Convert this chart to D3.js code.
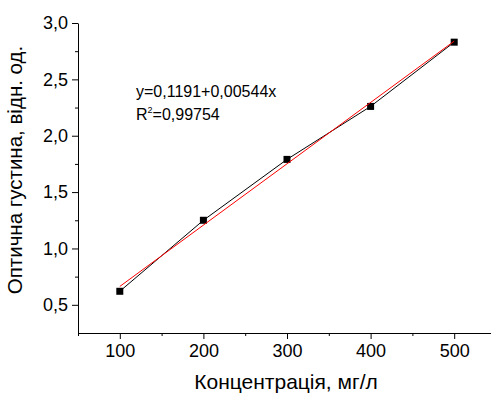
<!DOCTYPE html>
<html>
<head>
<meta charset="utf-8">
<script src="https://cdn.jsdelivr.net/npm/d3@7"></script>
<style>
  html, body { margin: 0; padding: 0; background: #fff; }
  svg { display: block; font-family: "Liberation Sans", Arial, sans-serif; }
</style>
</head>
<body>
<svg id="chart" width="491" height="394"></svg>
<script>
const concentrations = [100, 200, 300, 400, 500];
const opticalDensity = [0.62, 1.25, 1.79, 2.26, 2.83];
const fitX = [100, 500];
const fitY = [0.663, 2.839];
const xMajorTicks = [100, 200, 300, 400, 500];
const xMinorTicks = [50, 150, 250, 350, 450, 550];
const yMajorTicks = [0.5, 1.0, 1.5, 2.0, 2.5, 3.0];
const yMinorTicks = [0.75, 1.25, 1.75, 2.25, 2.75];
const equationLines = ["y=0,1191+0,00544x", "R", "2", "=0,99754"];
const xTitle = "Концентрація, мг/л";
const yTitle = "Оптична густина, відн. од.";

const svg = d3.select("#chart");
const x = d3.scaleLinear().domain([50, 550]).range([78, 496]);
const y = d3.scaleLinear().domain([0.25, 3.0]).range([333, 23]);
const fmt = d => d3.format(".1f")(d).replace(".", ",");

// X axis
const gx = svg.append("g").attr("transform", "translate(0,333)");
gx.call(d3.axisBottom(x).tickValues(xMajorTicks).tickSize(6).tickSizeOuter(0).tickFormat(d3.format("d")));
gx.append("g").call(d3.axisBottom(x).tickValues(xMinorTicks).tickSize(3).tickFormat("").tickSizeOuter(0))
  .select(".domain").remove();
gx.selectAll("text").attr("font-size", 18).attr("font-family", "Liberation Sans, Arial, sans-serif").attr("fill", "#000").attr("dy", "0.85em");

// Y axis
const gy = svg.append("g").attr("transform", "translate(78,0)");
gy.call(d3.axisLeft(y).tickValues(yMajorTicks).tickSize(6).tickSizeOuter(0).tickFormat(fmt));
gy.append("g").call(d3.axisLeft(y).tickValues(yMinorTicks).tickSize(3).tickFormat("").tickSizeOuter(0))
  .select(".domain").remove();
gy.selectAll("text").attr("font-size", 18).attr("font-family", "Liberation Sans, Arial, sans-serif").attr("fill", "#000").attr("x", -10);

svg.selectAll(".domain, .tick line").attr("stroke", "#000").attr("stroke-width", 1);

// Data line
const pts = concentrations.map((c, i) => [c, opticalDensity[i]]);
svg.append("path")
  .datum(pts)
  .attr("fill", "none")
  .attr("stroke", "#000")
  .attr("stroke-width", 1)
  .attr("d", d3.line().x(d => x(d[0])).y(d => y(d[1])));

// Markers
svg.selectAll("rect.pt").data(pts).enter().append("rect")
  .attr("class", "pt")
  .attr("x", d => x(d[0]) - 3.5)
  .attr("y", d => y(d[1]) - 3.5)
  .attr("width", 7).attr("height", 7)
  .attr("fill", "#000");

// Fit line
const fitPts = fitX.map((v, i) => [v, fitY[i]]);
svg.append("path")
  .datum(fitPts)
  .attr("fill", "none")
  .attr("stroke", "#ff0000")
  .attr("stroke-width", 1)
  .attr("d", d3.line().x(d => x(d[0])).y(d => y(d[1])));

// Equation text
svg.append("text").attr("x", 136).attr("y", 97).attr("font-size", 16).attr("fill", "#000")
  .text(equationLines[0]);
const t2 = svg.append("text").attr("x", 136).attr("y", 120).attr("font-size", 16).attr("fill", "#000");
t2.append("tspan").text(equationLines[1]);
t2.append("tspan").attr("font-size", 9).attr("dy", -7).text(equationLines[2]);
t2.append("tspan").attr("dy", 7).text(equationLines[3]);

// Axis titles
svg.append("text").attr("x", 286).attr("y", 389).attr("text-anchor", "middle")
  .attr("font-size", 21).attr("fill", "#000").text(xTitle);
svg.append("text").attr("transform", "translate(22,170) rotate(-90)").attr("text-anchor", "middle")
  .attr("font-size", 20.5).attr("fill", "#000").text(yTitle);
</script>
</body>
</html>
